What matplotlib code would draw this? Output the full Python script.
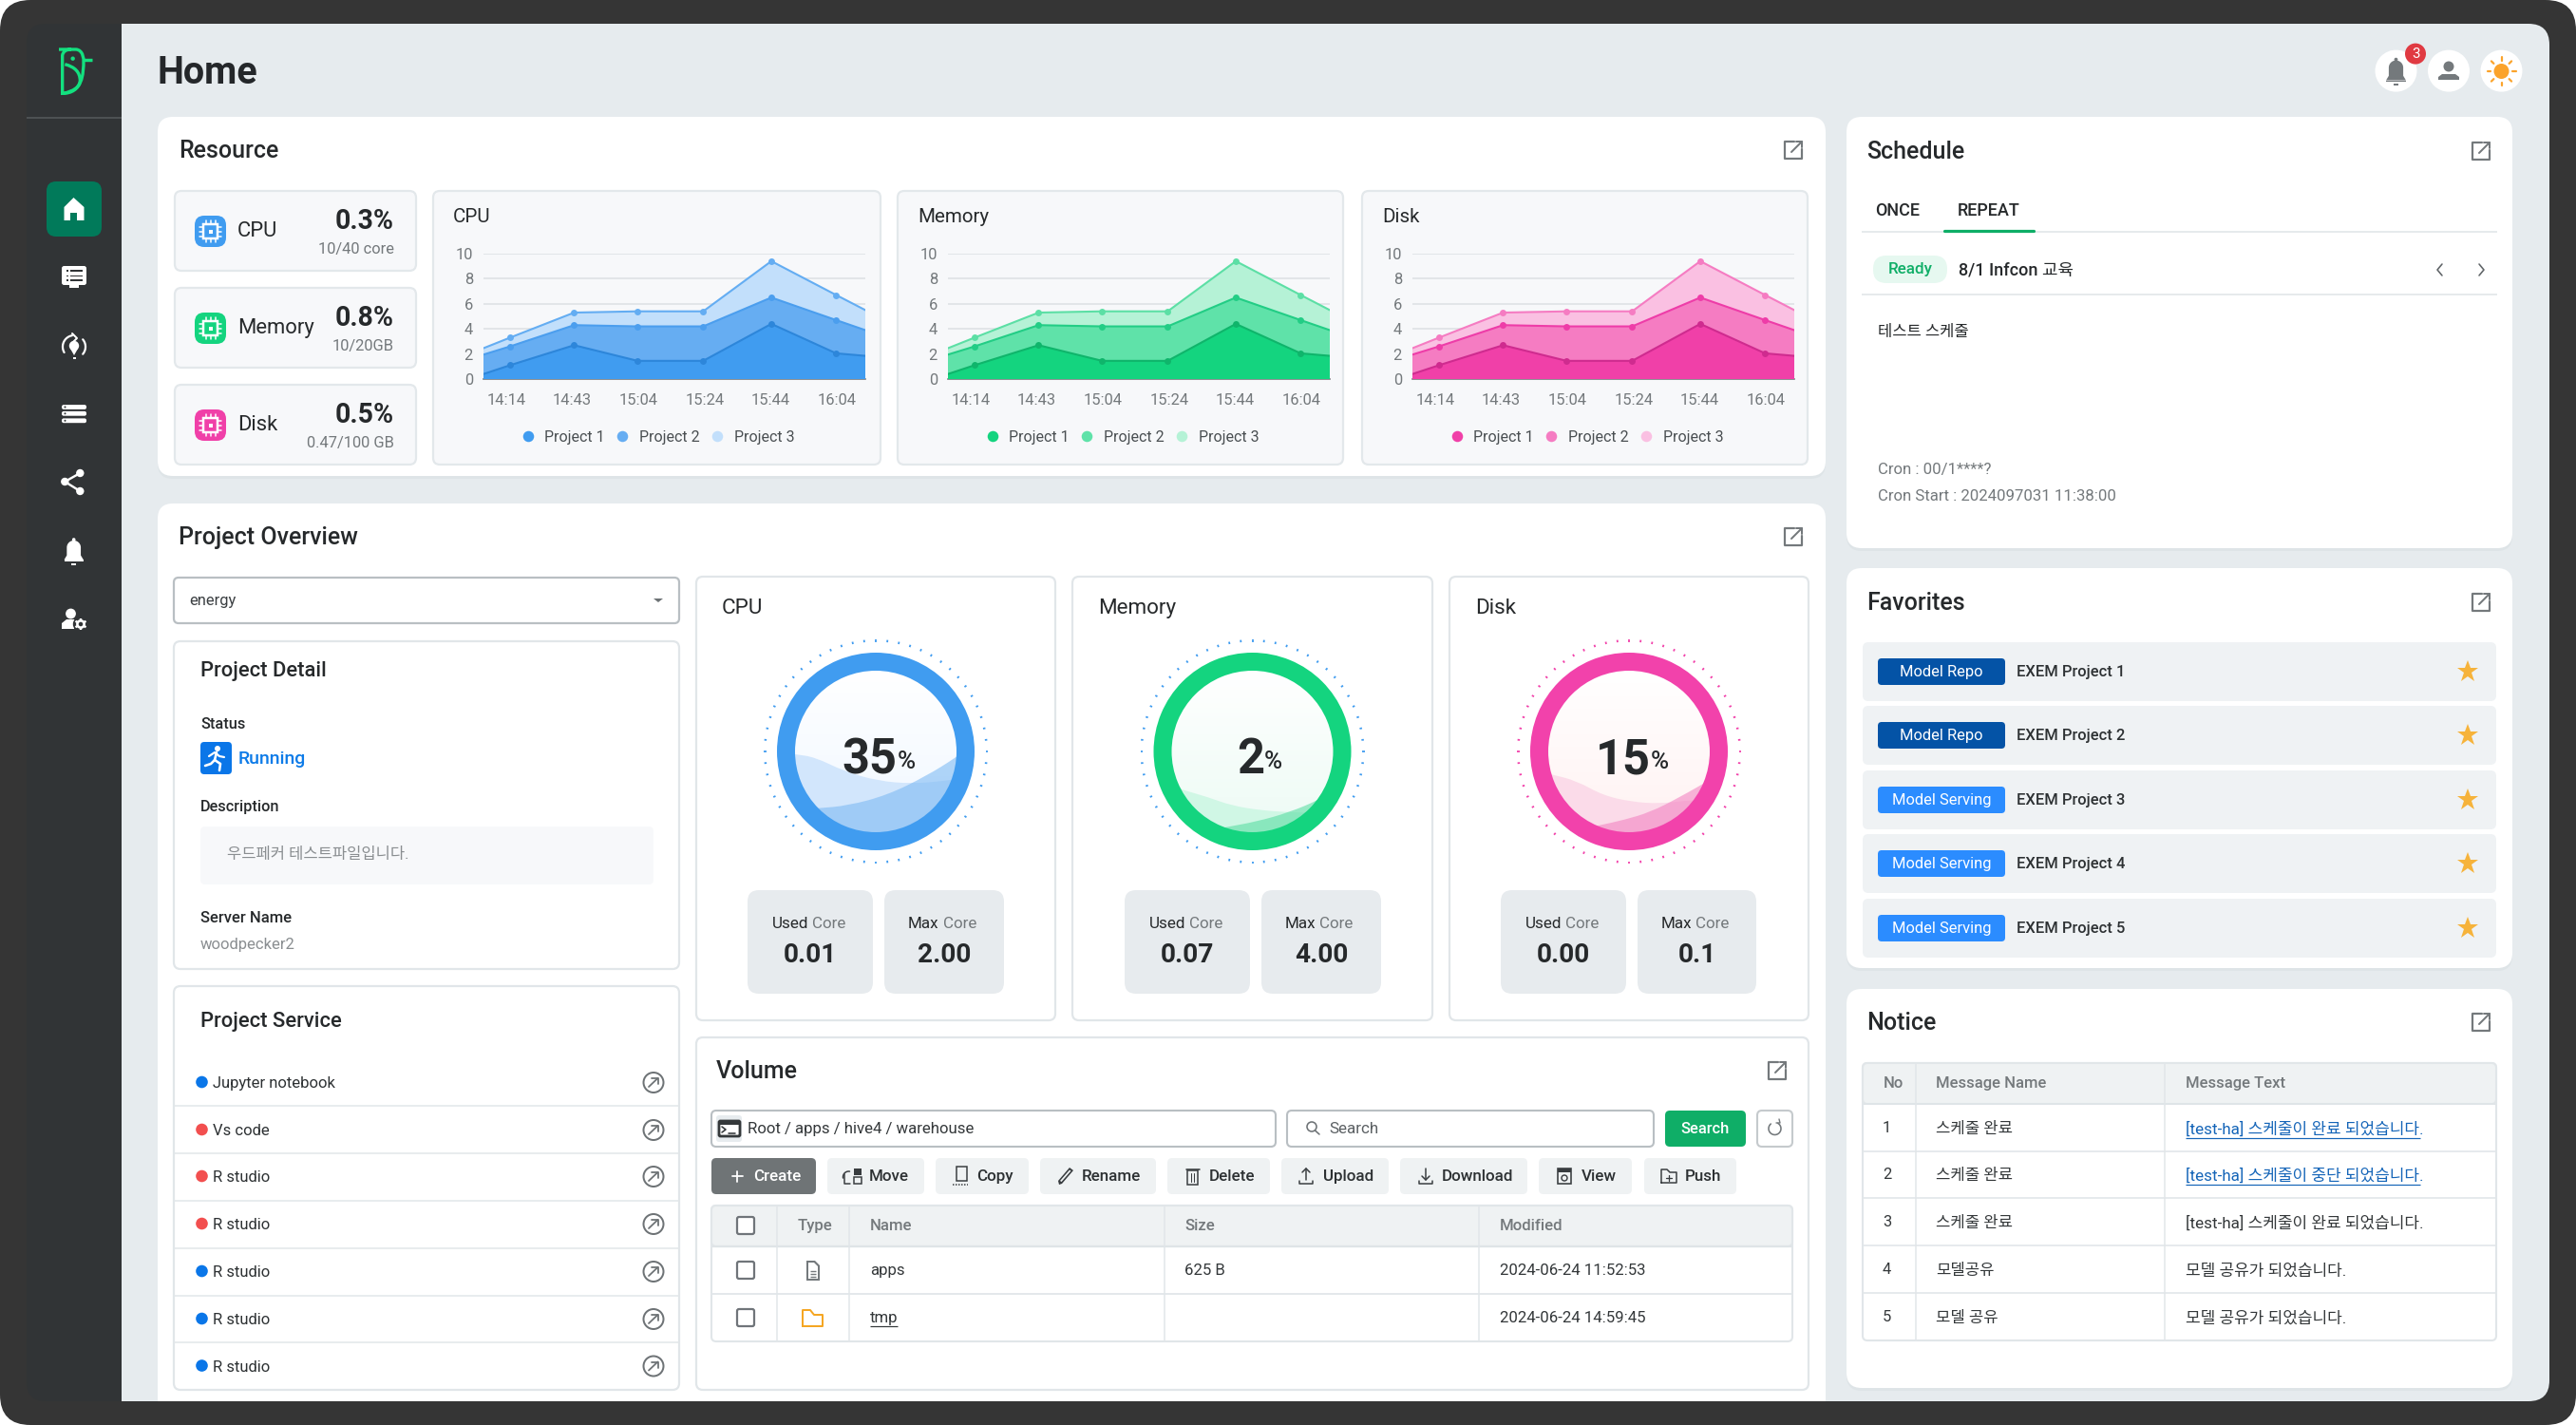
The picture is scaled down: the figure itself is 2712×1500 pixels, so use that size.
import numpy as np
import matplotlib
matplotlib.use("Agg")
import matplotlib.pyplot as plt
from matplotlib.patches import FancyBboxPatch, Circle, Rectangle, Polygon, PathPatch, Wedge
from matplotlib.path import Path
from matplotlib.lines import Line2D
from matplotlib.collections import LineCollection

plt.rcParams['font.family'] = ['Roboto', 'Noto Sans CJK KR', 'DejaVu Sans']

# ---------- data ----------
time_labels = ["14:14", "14:43", "15:04", "15:24", "15:44", "16:04"]
time_pos = [-0.34, 0.06, 1.03, 1.99, 2.98, 4.01, 4.99, 5.43]
project1 = [0.40, 1.10, 2.70, 1.45, 1.45, 4.40, 2.05, 1.85]
project2 = [1.55, 1.50, 1.60, 2.75, 2.75, 2.10, 2.65, 2.05]
project3 = [0.51, 0.70, 1.00, 1.20, 1.20, 2.90, 2.00, 1.60]
project_names = ["Project 1", "Project 2", "Project 3"]
y_ticks = [0, 2, 4, 6, 8, 10]

resource_names = ["CPU", "Memory", "Disk"]
resource_pct = ["0.3%", "0.8%", "0.5%"]
resource_sub = ["10/40 core", "10/20GB", "0.47/100 GB"]

gauge_pct = ["35", "2", "15"]
gauge_used = ["0.01", "0.07", "0.00"]
gauge_max = ["2.00", "4.00", "0.1"]

service_names = ["Jupyter notebook", "Vs code", "R studio", "R studio", "R studio", "R studio", "R studio"]
service_state = ["run", "stop", "stop", "stop", "run", "run", "run"]

button_names = ["Create", "Move", "Copy", "Rename", "Delete", "Upload", "Download", "View", "Push"]
vol_headers = ["Type", "Name", "Size", "Modified"]
vol_names = ["apps", "tmp"]
vol_sizes = ["625 B", ""]
vol_dates = ["2024-06-24 11:52:53", "2024-06-24 14:59:45"]

fav_tags = ["Model Repo", "Model Repo", "Model Serving", "Model Serving", "Model Serving"]
fav_names = ["EXEM Project 1", "EXEM Project 2", "EXEM Project 3", "EXEM Project 4", "EXEM Project 5"]

notice_no = ["1", "2", "3", "4", "5"]
notice_name = ["스케줄 완료", "스케줄 완료", "스케줄 완료", "모델공유", "모델 공유"]
notice_text = ["[test-ha] 스케줄이 완료 되었습니다.", "[test-ha] 스케줄이 중단 되었습니다.",
               "[test-ha] 스케줄이 완료 되었습니다.", "모델 공유가 되었습니다.", "모델 공유가 되었습니다."]

# ---------- palette ----------
BLUE = ["#409cf0", "#66adf2", "#c2dffb"]
GREEN = ["#14d47f", "#5fe2a9", "#b5f2d6"]
PINK = ["#f040a8", "#f57cc2", "#fac0e2"]
LINES = [["#2d86da", "#4b9eee", "#64adf2"], ["#0fb56b", "#22cd85", "#5cdfa5"], ["#cf2b8f", "#ee3ca8", "#f57cc2"]]
DARK = "#26292b"
GRAY = "#74797c"
BORDER = "#e1e6e9"

W, H = 2712, 1500
fig = plt.figure(figsize=(W / 100, H / 100), dpi=100, facecolor="white")
bg = fig.add_axes([0, 0, 1, 1], zorder=0)
bg.set_xlim(0, W)
bg.set_ylim(H, 0)
bg.axis("off")


def rr(x0, y0, x1, y1, r=8, fc="white", ec="none", lw=0, z=1, clip=None):
    p = FancyBboxPatch((x0, y0), x1 - x0, y1 - y0, boxstyle=f"round,pad=0,rounding_size={r}",
                       fc=fc, ec=ec, lw=lw, zorder=z)
    bg.add_patch(p)
    if clip is not None:
        p.set_clip_path(clip)
    return p


def t(x, y, s, px=16, c=DARK, w="normal", ha="left", va="center", z=6, **kw):
    if va == "center":
        y += 1.8
    return bg.text(x, y, s, fontsize=px * 0.72, color=c, fontweight=w, ha=ha, va=va, zorder=z, **kw)


def line(xs, ys, c="white", lw=2.0, z=5, **kw):
    bg.plot(xs, ys, color=c, lw=lw * 0.72, zorder=z, solid_capstyle=kw.pop("cap", "round"), **kw)


def dot(x, y, r, fc="white", z=5, ec="none", lw=0):
    bg.add_patch(Circle((x, y), r, fc=fc, ec=ec, lw=lw * 0.72, zorder=z))


def rect(x0, y0, x1, y1, fc="white", z=5, ec="none", lw=0):
    bg.add_patch(Rectangle((x0, y0), x1 - x0, y1 - y0, fc=fc, ec=ec, lw=lw * 0.72, zorder=z))


def poly(pts, fc="white", z=5):
    bg.add_patch(Polygon(pts, closed=True, fc=fc, ec="none", zorder=z))


def arc(cx, cy, r, a0, a1, n=30):
    a = np.radians(np.linspace(a0, a1, n))
    return cx + r * np.cos(a), cy + r * np.sin(a)


def ext_icon(x, y):
    c = "#74797c"
    line([x + 1, x - 9, x - 9, x + 9, x + 9], [y - 9, y - 9, y + 9, y + 9, y - 1], c=c, lw=2.2, z=6)
    line([x - 2, x + 9], [y + 2, y - 9], c=c, lw=2, z=6)
    line([x + 3, x + 9, x + 9], [y - 9, y - 9, y - 3], c=c, lw=2, z=6)


def bell(x, y, c, s=1.0):
    xs, ys = arc(x, y - 4 * s, 8 * s, 180, 360)
    pts = [(x - 11 * s, y + 10 * s), (x - 8 * s, y + 5 * s)] + list(zip(xs, ys)) + \
          [(x + 8 * s, y + 5 * s), (x + 11 * s, y + 10 * s)]
    poly(pts, fc=c, z=6)
    dot(x, y - 13 * s, 2 * s, fc=c, z=6)
    rect(x - 11 * s, y + 10 * s, x + 11 * s, y + 12 * s, fc=c, z=6)
    rect(x - 3 * s, y + 14 * s, x + 3 * s, y + 16 * s, fc=c, z=6)


# ---------- frame ----------
frame = rr(0, 0, W, H, r=32, fc="#353535", z=0.1)
content = rr(90, 25, 2684, 1475, r=22, fc="#e6ebee", z=0.2)
rr(28, 25, 110, 1475, r=20, fc="#313436", z=0.3)
rect(60, 25, 128, 1475, fc="#313436", z=0.3)
line([28, 128], [123.5, 123.5], c="#4d5153", lw=2, z=0.4, cap="butt")

# logo
LG = "#13e07f"
def lg(x, y):
    return (20 + x / 3, 30 + y / 3)
V = [lg(126, 66), lg(180, 66), lg(204, 68), lg(204, 100), lg(204, 100), lg(204, 145),
     lg(200, 205), lg(137, 205), lg(137, 205), lg(137, 85), lg(140, 66), lg(165, 66)]
C = [Path.MOVETO, Path.LINETO, Path.CURVE4, Path.CURVE4, Path.CURVE4, Path.CURVE4,
     Path.CURVE4, Path.CURVE4, Path.LINETO, Path.LINETO, Path.CURVE3, Path.CURVE3]
bg.add_patch(PathPatch(Path(V, C), fc="none", ec=LG, lw=2.4, zorder=5))
V = [lg(145, 113), lg(193, 125), lg(193, 165), lg(190, 195), lg(140, 205)]
C = [Path.MOVETO, Path.CURVE3, Path.CURVE3, Path.CURVE3, Path.CURVE3]
bg.add_patch(PathPatch(Path(V, C), fc="none", ec=LG, lw=2.4, zorder=5))
line([lg(204, 99)[0], lg(231, 99)[0]], [lg(204, 99)[1], lg(231, 99)[1]], c=LG, lw=3.4, cap="butt")
dot(*lg(170, 95), 2.2, fc=LG)

# sidebar icons
rr(49, 191, 107, 249, r=10, fc="#017a5a", z=1)
poly([(77.5, 208), (88.5, 218), (88.5, 232), (81, 232), (81, 224), (74, 224), (74, 232), (67.5, 232), (67.5, 218)])
rr(65, 280, 91, 300, r=2.5, fc="white", z=5)
rect(73, 300, 83, 303)
for yy in (285, 290.5, 295):
    rect(70, yy - 0.9, 72, yy + 0.9, fc="#313436", z=6)
    rect(74, yy - 0.9, 87, yy + 0.9, fc="#313436", z=6)
x_, y_ = arc(78, 365, 12, 150, 260)
line(x_, y_, lw=2.2)
x_, y_ = arc(78, 365, 12, -40, 40)
line(x_, y_, lw=2.2)
line([76, 81, 76], [351, 356, 361], lw=2)
dot(78, 364, 5.2)
poly([(74, 367), (82, 367), (78, 374)])
rect(76.5, 376, 79.5, 377.5)
for yy in (428.5, 435.3, 442.8):
    rr(65, yy - 2.4, 91, yy + 2.4, r=2, fc="white", z=5)
    dot(68.5, yy, 1, fc="#313436", z=6)
for a, b in [((84.3, 498), (68.3, 507)), ((84.3, 517), (68.3, 507))]:
    line([a[0], b[0]], [a[1], b[1]], lw=2.4)
dot(84.3, 498, 4.2); dot(68.3, 507, 4.2); dot(84.3, 517, 4.2)
bell(77.7, 580, "white", 0.92)
dot(74.5, 646, 5.4)
poly([(65, 662), (65, 656), (70, 652), (80, 652), (78, 662)])
dot(85, 657, 8.2, fc="#313436", z=6)
dot(85, 657, 3.6, fc="#313436", ec="white", lw=2.6, z=7)
for a in range(0, 360, 60):
    ca, sa = np.cos(np.radians(a + 30)), np.sin(np.radians(a + 30))
    line([85 + 4 * ca, 85 + 6.4 * ca], [657 + 4 * sa, 657 + 6.4 * sa], lw=2.4, z=7, cap="butt")

# header
t(166, 75, "Home", 39.5, w="bold", c="#24272a")
for xc in (2522.5, 2578, 2633.5):
    dot(xc, 74.6, 22, fc="white", z=2)
bell(2522.5, 75, "#74797c", 0.95)
dot(2578, 70, 5.5, fc="#74797c")
poly([(2567, 84), (2567, 81), (2571, 78), (2585, 78), (2589, 81), (2589, 84)], fc="#74797c")
dot(2633.5, 75, 8, fc="#fba32b")
for a in range(0, 360, 45):
    ca, sa = np.cos(np.radians(a)), np.sin(np.radians(a))
    line([2633.5 + 11.5 * ca, 2633.5 + 15 * ca], [75 + 11.5 * sa, 75 + 15 * sa], c="#fba32b", lw=2.2, z=6)
dot(2543, 56.6, 11, fc="#e03a42", z=6)
t(2543, 55, "3", 15, c="white", ha="center", z=7)


def card(x0, y0, x1, y1, title, tx, ty, icx, clip=None):
    rr(x0, y0 + 3, x1, y1 + 3, r=16, fc="#dee4e7", z=0.8, clip=clip)
    rr(x0, y0, x1, y1, r=16, fc="white", z=1, clip=clip)
    t(tx, ty, title, 25, w="medium")
    ext_icon(icx, ty + 1)


card(166, 123, 1922, 501, "Resource", 188.5, 157, 1888)
card(166, 530, 1922, 1500, "Project Overview", 188.5, 564, 1888, clip=content)
card(1944, 123, 2645, 577, "Schedule", 1965, 158, 2612)
card(1944, 598, 2645, 1019, "Favorites", 1965, 633, 2612)
card(1944, 1041, 2645, 1461, "Notice", 1965, 1075, 2612)


# ---------- resource stat boxes ----------
def chip(x0, y0, c):
    rr(x0, y0, x0 + 33, y0 + 33, r=10, fc=c, z=3)
    cx, cy = x0 + 16.5, y0 + 16.5
    for d in (-5, 0, 5):
        line([cx + d, cx + d], [cy - 11.5, cy + 11.5], lw=1.5)
        line([cx - 11.5, cx + 11.5], [cy + d, cy + d], lw=1.5)
    rect(cx - 7.5, cy - 7.5, cx + 7.5, cy + 7.5, fc=c, ec="white", lw=2.5, z=6)
    rect(cx - 2, cy - 2, cx + 2, cy + 2, z=7)


box_y = [201, 303, 405]
for i, col in enumerate([BLUE, GREEN, PINK]):
    y0 = box_y[i]
    rr(184, y0, 438, y0 + 84, r=7, fc="#f7f8fa", ec="#e3e8eb", lw=1.6, z=2)
    chip(205, y0 + 26, col[0])
    t(250, y0 + 41, resource_names[i], 22)
    t(415, y0 + 30, resource_pct[i], 28.5, w="bold", ha="right")
    t(415, y0 + 60, resource_sub[i], 16.5, c=GRAY, ha="right")

# ---------- area charts ----------
panel_dx = [0, 489, 978]
for k, (name, col) in enumerate(zip(resource_names, [BLUE, GREEN, PINK])):
    dx = panel_dx[k]
    rr(456 + dx, 201, 927 + dx - (0 if k == 0 else 2), 489, r=7, fc="#f7f8fa", ec="#e3e8eb", lw=1.6, z=2)
    t(477 + dx, 227, name, 20.5)
    x0, x1, y1, y0 = 509 + dx, 911 + dx, 267, 399
    ax = fig.add_axes([x0 / W, 1 - y0 / H, (x1 - x0) / W, (y0 - y1) / H], zorder=3)
    ax.set_facecolor("none")
    xp = np.array(time_pos)
    ax.stackplot(xp, project1, project2, project3, colors=col, zorder=3, lw=0)
    cum1 = np.array(project1)
    cum2 = cum1 + np.array(project2)
    cum3 = cum2 + np.array(project3)
    for cum, lc in zip((cum3, cum2, cum1), (LINES[k][2], LINES[k][1], LINES[k][0])):
        ax.plot(xp, cum, color=lc, lw=1.5, zorder=4)
        ax.plot(xp[1:-1], cum[1:-1], "o", color=lc, ms=5, mew=0, zorder=5)
    ax.set_xlim(xp[0], xp[-1])
    ax.set_ylim(0, 10)
    ax.set_yticks(y_ticks)
    ax.set_xticks(range(len(time_labels)))
    ax.set_xticklabels(time_labels)
    ax.tick_params(axis="both", length=0, labelsize=16.5 * 0.72, labelcolor=GRAY)
    ax.tick_params(axis="y", pad=8)
    ax.tick_params(axis="x", pad=11)
    ax.grid(axis="y", color="#e2e5e8", lw=1.4, zorder=1)
    ax.set_axisbelow(True)
    for s in ("top", "right", "left"):
        ax.spines[s].set_visible(False)
    ax.spines["bottom"].set_color("#7a7d80")
    ax.spines["bottom"].set_linewidth(1.2)
    hs = [Line2D([], [], ls="none", marker="o", ms=11 * 0.72 * 1.05, mew=0, color=c) for c in col]
    ax.legend(hs, project_names, loc="center", bbox_to_anchor=(0.455, -0.465), frameon=False, ncol=3,
              fontsize=16 * 0.72, labelcolor="#4a4f52", handletextpad=0.58, columnspacing=0.68, handlelength=1.0,
              borderpad=0, borderaxespad=0)

# ---------- project column ----------
rr(183, 608, 715, 656, r=5, fc="white", ec="#b9bfc3", lw=1.6, z=2)
t(199, 631, "energy", 16.5, c="#3b3f42")
poly([(688, 630), (698, 630), (693, 634)], fc="#6d7275")

rr(183, 675, 715, 1020, r=7, fc="white", ec=BORDER, lw=1.6, z=2)
t(211, 705, "Project Detail", 22, w="medium")
t(211, 761, "Status", 16.2, w="medium")
rr(211, 781, 244, 815, r=4, fc="#0a76e8", z=3)
dot(229, 788, 3)
line([228, 226, 222, 216], [792, 800, 804, 806], lw=2.6)
line([220, 226, 231, 236], [796, 792, 796, 797], lw=2.2)
line([226, 232, 231], [800, 804, 811], lw=2.6)
t(251, 797, "Running", 19.5, c="#0d7be8", w="medium")
t(211, 848, "Description", 16.3, w="medium")
rr(211, 870, 688, 931, r=5, fc="#f7f8fa", z=3)
t(239, 898, "우드페커 테스트파일입니다.", 16.6, c="#8a8e91")
t(211, 964.5, "Server Name", 16.6, w="medium")
t(211, 993, "woodpecker2", 16.6, c="#8a8e91")

rr(183, 1038, 715, 1463, r=7, fc="white", ec=BORDER, lw=1.6, z=2)
t(211, 1074, "Project Service", 22, w="medium")
svc_y = [1139, 1189, 1238, 1288, 1338, 1388, 1437.5]
sep_y = [1164, 1214, 1264, 1314, 1363.5, 1413]
for yy in sep_y:
    line([184, 714], [yy, yy], c=BORDER, lw=1.5, z=3, cap="butt")
for yy, n, st in zip(svc_y, service_names, service_state):
    dot(212.5, yy, 6.3, fc="#0a76e8" if st == "run" else "#f24f4f")
    t(224, yy, n, 16.6, c="#2d3133")
    dot(688, yy + 0.5, 10.5, fc="none", ec="#6e7376", lw=2)
    line([683, 692.5], [yy + 5, yy - 4], c="#6e7376", lw=1.8)
    line([686, 692.5, 692.5], [yy - 4, yy - 4, yy + 2], c="#6e7376", lw=1.8)


# ---------- gauges ----------
def wave(cx, cy, pts, fc, alpha, clip, z):
    P = [(cx + a, cy + b) for a, b in pts]
    V = [P[0]]
    C = [Path.MOVETO]
    for i in range(1, len(P) - 1):
        V += [P[i], ((P[i][0] + P[i + 1][0]) / 2, (P[i][1] + P[i + 1][1]) / 2)]
        C += [Path.CURVE3, Path.CURVE3]
    V += [P[-1], (P[-1][0], cy + 95), (P[0][0], cy + 95), P[0]]
    C += [Path.LINETO, Path.LINETO, Path.LINETO, Path.CLOSEPOLY]
    p = PathPatch(Path(V, C), fc=fc, ec="none", alpha=alpha, zorder=z)
    bg.add_patch(p)
    p.set_clip_path(clip)


gauge_cx = [922, 1318.5, 1715]
panel_x = [(733, 1111), (1129, 1508), (1526, 1904)]
used_x = [(787, 919), (1184, 1316), (1580, 1712)]
max_x = [(931, 1057), (1328, 1454), (1724, 1849)]
pct_right = [944.5, 1331, 1738]
ring_col = [BLUE[0], GREEN[0], "#f242ab"]
tick_col = [BLUE[0], BLUE[0], "#f242ab"]
grad_tint = [(0.94, 0.97, 1.0), (0.93, 0.985, 0.96), (1.0, 0.95, 0.95)]
back_col = ["#d2e6fc", "#d0f7e5", "#fbdbe9"]
front_col = ["#7ab8f3", "#55dca0", "#f27fc0"]
back_w = [[(-92, 2), (-85, 3), (-64, 6), (-33, 21), (2, 31), (38, 34), (73, 31), (92, 28)],
          [(-90, 35), (-75, 40), (-47, 48), (-22, 57), (9, 62), (39, 64), (70, 65), (92, 66)],
          [(-92, 22), (-82, 24), (-55, 31), (-28, 46), (2, 53), (32, 55), (58, 52), (92, 50)]]
front_w = [[(-92, 62), (-62, 60), (-29, 57), (12, 46), (53, 26), (85, 6), (95, -2)],
           [(-60, 86), (-30, 80), (4, 74), (39, 64), (70, 51), (92, 38)],
           [(-60, 84), (-32, 78), (-5, 72), (22, 64), (52, 49), (92, 26)]]

for i in range(3):
    x0, x1 = panel_x[i]
    rr(x0, 607, x1, 1074, r=7, fc="white", ec=BORDER, lw=1.6, z=2)
    t(x0 + 27, 639, resource_names[i], 22.5)
    cx, cy = gauge_cx[i], 791
    inner = Circle((cx, cy), 86, fc="white", ec="none", zorder=3)
    bg.add_patch(inner)
    g = np.linspace(0, 1, 64)[:, None, None] * (np.array(grad_tint[i])[None, None, :] - 1) + 1
    im = bg.imshow(g, extent=(cx - 86, cx + 86, cy + 86, cy - 86), aspect="auto", origin="upper", zorder=3.1)
    im.set_clip_path(inner)
    wave(cx, cy, back_w[i], back_col[i], 1.0, inner, 3.2)
    wave(cx, cy, front_w[i], front_col[i], 0.575, inner, 3.3)
    bg.add_patch(Wedge((cx, cy), 104, 0, 360, width=19, fc=ring_col[i], ec="none", zorder=4))
    segs = []
    for a in np.arange(0, 360, 6.0):
        ca, sa = np.cos(np.radians(a)), np.sin(np.radians(a))
        segs.append([(cx + 115.5 * ca, cy + 115.5 * sa), (cx + 118 * ca, cy + 118 * sa)])
    bg.add_collection(LineCollection(segs, colors=tick_col[i], linewidths=1.3, zorder=4))
    t(pct_right[i], 814.5, gauge_pct[i], 50.5, w="bold", ha="right", va="baseline")
    t(pct_right[i], 809, "%", 26, w="medium", va="baseline")
    for (a, b), lab, val in zip((used_x[i], max_x[i]), ("Used", "Max"), (gauge_used[i], gauge_max[i])):
        rr(a, 937, b, 1046, r=12, fc="#e7ebee", z=3)
        mid = (a + b) / 2
        split = -2 if lab == "Used" else -5.5
        t(mid + split, 971, lab, 17, ha="right")
        t(mid + split + 4, 971, "Core", 17, c=GRAY)
        t(mid, 1004, val, 28, w="bold", ha="center")

# ---------- volume ----------
rr(733, 1092, 1904, 1463, r=7, fc="white", ec=BORDER, lw=1.6, z=2)
t(754, 1126, "Volume", 25, w="medium")
ext_icon(1871, 1127)
rr(749, 1169, 1343, 1207, r=5, fc="white", ec="#b9bfc3", lw=1.5, z=3)
rr(754, 1174, 781, 1202, r=3, fc="#e7ecef", z=4)
rr(757, 1180, 779, 1196, r=1.5, fc="white", ec="#34383a", lw=2, z=5)
rect(757, 1180, 779, 1183.5, fc="#34383a", z=6)
line([760, 764, 760], [1186, 1189, 1192], c="#34383a", lw=1.6, z=6)
line([767, 774], [1193, 1193], c="#34383a", lw=1.6, z=6)
t(787, 1187, "Root / apps / hive4 / warehouse", 16.7, c="#34383a")
rr(1355, 1169, 1741, 1207, r=5, fc="white", ec="#b9bfc3", lw=1.5, z=3)
dot(1381, 1186, 5, fc="none", ec="#6e7376", lw=1.6)
line([1384.5, 1389], [1190, 1194], c="#6e7376", lw=1.6)
t(1399, 1187, "Search", 17, c="#5b6063")
rr(1753, 1169, 1838, 1207, r=5, fc="#0fae67", z=3)
t(1795.5, 1187, "Search", 16.5, c="white", w="medium", ha="center")
rr(1850, 1169, 1887, 1207, r=5, fc="white", ec="#c5cacd", lw=1.5, z=3)
x_, y_ = arc(1868.5, 1188, 6.5, -60, 230)
line(x_, y_, c="#74797c", lw=1.6)
line([1870, 1874, 1873], [1182, 1182, 1178], c="#74797c", lw=1.4)

btn_x = [(749, 859), (871, 973), (985, 1083), (1095, 1217), (1229, 1337), (1349, 1462), (1474, 1608), (1620, 1718), (1731, 1828)]
btn_text = [793, 915, 1028, 1139, 1273, 1393, 1518, 1665, 1774]
btn_icon = [776, 897.5, 1011.5, 1122, 1255.6, 1375, 1501, 1647, 1757]
IC = "#383c3f"
for (a, b), tx, ic, n in zip(btn_x, btn_text, btn_icon, button_names):
    yc = 1238
    first = n == "Create"
    rr(a, 1219, b, 1257, r=5, fc="#6f7476" if first else "#eff2f3", z=3)
    t(tx, yc - 1, n, 17, c="white" if first else "#2d3133", w="medium")
    if n == "Create":
        line([ic - 5.5, ic + 5.5], [yc, yc], lw=1.8)
        line([ic, ic], [yc - 5.5, yc + 5.5], lw=1.8)
    elif n == "Move":
        rect(ic + 1, yc - 8, ic + 9, yc - 1, fc=IC)
        rect(ic + 1, yc + 1, ic + 9, yc + 8, fc="none", ec=IC, lw=1.5)
        x_, y_ = arc(ic - 3, yc + 1, 6, 170, 280)
        line(x_ - 1, y_, c=IC, lw=1.5)
        line([ic - 9, ic - 9, ic - 3], [yc - 2, yc + 8, yc + 8], c=IC, lw=1.5)
    elif n == "Copy":
        rect(ic - 5, yc - 10, ic + 6, yc + 5, fc="none", ec=IC, lw=1.5)
        line([ic - 9, ic + 7], [yc + 9, yc + 9], c=IC, lw=1.5, ls=(0, (1, 1)))
    elif n == "Rename":
        poly([(ic - 7, yc + 9), (ic - 8, yc + 5), (ic + 4, yc - 9), (ic + 8, yc - 6), (ic - 4, yc + 8)], fc=IC)
        poly([(ic - 6, yc + 5), (ic + 4, yc - 6.5), (ic + 5.5, yc - 5.5), (ic - 4.5, yc + 6)], fc="#eff2f3", z=6)
    elif n == "Delete":
        line([ic - 7, ic + 7], [yc - 7, yc - 7], c=IC, lw=1.6)
        rect(ic - 5.5, yc - 6, ic + 5.5, yc + 9, fc="none", ec=IC, lw=1.5)
        line([ic - 1.5, ic - 1.5], [yc - 3, yc + 6], c=IC, lw=1)
        line([ic + 1.5, ic + 1.5], [yc - 3, yc + 6], c=IC, lw=1)
    elif n == "Upload":
        line([ic, ic], [yc - 8, yc + 4], c=IC, lw=1.5)
        line([ic - 4, ic, ic + 4], [yc - 4, yc - 8, yc - 4], c=IC, lw=1.5)
        line([ic - 7, ic - 7, ic + 7, ic + 7], [yc + 5, yc + 8, yc + 8, yc + 5], c=IC, lw=1.5)
    elif n == "Download":
        line([ic, ic], [yc - 8, yc + 4], c=IC, lw=1.5)
        line([ic - 4, ic, ic + 4], [yc, yc + 4, yc], c=IC, lw=1.5)
        line([ic - 7, ic - 7, ic + 7, ic + 7], [yc + 5, yc + 8, yc + 8, yc + 5], c=IC, lw=1.5)
    elif n == "View":
        rect(ic - 7, yc - 8, ic + 7, yc + 8, fc="none", ec=IC, lw=1.6)
        rect(ic - 7, yc - 8, ic + 7, yc - 4.5, fc=IC)
        dot(ic, yc + 2, 3, fc="none", ec=IC, lw=1.4)
    elif n == "Push":
        line([ic - 8, ic - 8, ic - 2, ic + 1, ic + 8, ic + 8, ic - 8],
             [yc + 7, yc - 7, yc - 7, yc - 4, yc - 4, yc + 7, yc + 7], c=IC, lw=1.5)
        line([ic - 3, ic + 3], [yc + 1.5, yc + 1.5], c=IC, lw=1.3)
        line([ic, ic], [yc - 1.5, yc + 4.5], c=IC, lw=1.3)

rr(749, 1269, 1887, 1412, r=5, fc="white", ec=BORDER, lw=1.5, z=3)
rr(749, 1269, 1887, 1312, r=5, fc="#eff2f3", ec=BORDER, lw=1.5, z=3.1)
line([750, 1886], [1312, 1312], c="#dfe4e7", lw=2.2, z=3.2, cap="butt")
line([750, 1886], [1362, 1362], c=BORDER, lw=1.8, z=3.2, cap="butt")
for xv in (818, 894.4, 1226, 1557):
    line([xv, xv], [1270, 1411], c=BORDER, lw=1.5, z=3.3, cap="butt")
for xv, lab in zip((840, 916, 1247, 1579), vol_headers):
    t(xv, 1289, lab, 16.8, c=GRAY, w="medium")
for yy in (1290, 1337, 1387):
    rr(776, yy - 9, 794, yy + 9, r=2, fc="white", ec="#70757a", lw=1.6, z=5)
for i, yy in enumerate((1337, 1387)):
    t(916, yy - 1, vol_names[i], 16.7, c="#34383a")
    t(1247, yy - 1, vol_sizes[i], 16.7, c="#34383a")
    t(1579, yy - 1, vol_dates[i], 16.7, c="#34383a")
line([916, 945], [1396, 1396], c="#34383a", lw=1.2, z=6, cap="butt")
poly([(849, 1327), (858, 1327), (863, 1332), (863, 1348), (849, 1348)], fc="#74797c")
poly([(851, 1329), (857, 1329), (861, 1333), (861, 1346), (851, 1346)], fc="white", z=6)
for yy in (1338, 1341, 1344):
    line([853, 859], [yy, yy], c="#74797c", lw=1.4, z=7, cap="butt")
line([845, 845, 853, 857, 866, 866, 845], [1396, 1379, 1379, 1384, 1384, 1396, 1396], c="#f5a623", lw=2)

# ---------- schedule ----------
t(1998, 220, "ONCE", 18, w="medium", ha="center")
t(2094, 220, "REPEAT", 18, w="medium", ha="center")
line([1960, 2629], [244, 244], c="#dfe4e7", lw=1.5, z=3, cap="butt")
line([2047, 2141], [243, 243], c="#0fae67", lw=3.2, z=4)
rr(1972, 269, 2050, 298, r=14, fc="#e6f8f0", z=3)
t(2011, 282, "Ready", 17, c="#0fae67", w="medium", ha="center")
t(2062, 282.6, "8/1 Infcon 교육", 18, w="medium")
line([2571, 2566, 2571], [278, 284, 290], c="#5f6467", lw=1.6)
line([2610, 2615, 2610], [278, 284, 290], c="#5f6467", lw=1.6)
line([1960, 2629], [310.4, 310.4], c="#dfe4e7", lw=1.5, z=3, cap="butt")
t(1977, 347.6, "테스트 스케줄", 16.6)
t(1977, 493, "Cron : 00/1****?", 16.8, c=GRAY)
t(1977, 520.6, "Cron Start : 2024097031 11:38:00", 16.8, c=GRAY)

# ---------- favorites ----------
fav_y = [676, 743, 811, 878, 946]
for yy, tag, nm in zip(fav_y, fav_tags, fav_names):
    rr(1961, yy, 2628, yy + 62, r=6, fc="#eff2f4", z=2)
    rr(1977, yy + 17, 2111, yy + 45, r=4, fc="#0453a6" if "Repo" in tag else "#2b8cff", z=3)
    t(2044, yy + 29.5, tag, 16.5, c="white", ha="center")
    t(2123, yy + 29.5, nm, 16.5, w="medium", c="#2d3133")
    bg.plot([2598], [yy + 31], marker="*", ms=17, color="#f6b33b", mew=0, zorder=5)

# ---------- notice ----------
rr(1961, 1119, 2628, 1411, r=5, fc="white", ec=BORDER, lw=1.5, z=2)
rr(1961, 1119, 2628, 1162, r=5, fc="#eff2f3", ec=BORDER, lw=1.5, z=2.1)
line([1962, 2627], [1162, 1162], c="#dfe4e7", lw=2, z=3, cap="butt")
for yy in (1212, 1261, 1311, 1361):
    line([1962, 2627], [yy, yy], c=BORDER, lw=1.6, z=3, cap="butt")
for xv in (2016.5, 2279):
    line([xv, xv], [1120, 1410], c=BORDER, lw=1.5, z=3, cap="butt")
for xv, lab in zip((1983, 2038, 2301), ("No", "Message Name", "Message Text")):
    t(xv, 1139, lab, 16.6, c=GRAY, w="medium")
notice_y = [1188, 1237, 1287, 1337, 1387]
for i, yy in enumerate(notice_y):
    t(1982, yy - 2, notice_no[i], 16.5, c="#34383a")
    t(2038, yy - 1, notice_name[i], 16.7, c="#34383a")
    link = i < 2
    t(2301, yy - 1, notice_text[i], 17, c="#1565b8" if link else "#34383a")
    if link:
        line([2301, 2548], [yy + 10, yy + 10], c="#1565b8", lw=1.2, z=6, cap="butt")

bg.set_xlim(0, W)
bg.set_ylim(H, 0)
fig.savefig("out.png", dpi=100, facecolor="white")
